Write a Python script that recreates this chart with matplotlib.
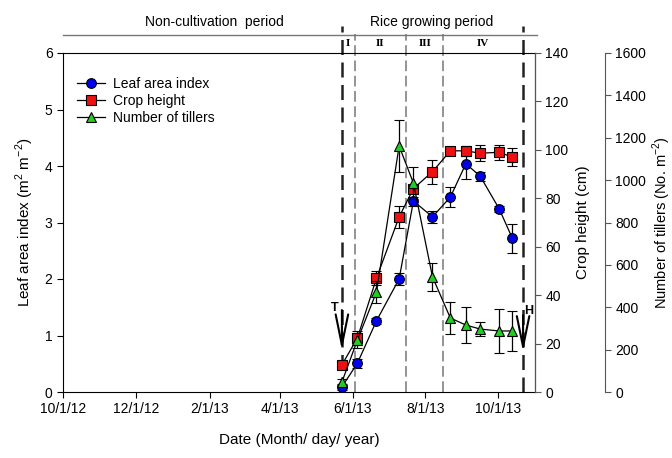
import matplotlib
matplotlib.use("Agg")
import matplotlib.pyplot as plt
import matplotlib.dates as mdates
import matplotlib.transforms as mtrans
from matplotlib.lines import Line2D
import pandas as pd

plt.rcParams['font.family'] = ['Liberation Sans', 'DejaVu Sans']
plt.rcParams['mathtext.fontset'] = 'custom'
plt.rcParams['mathtext.rm'] = 'Liberation Sans'

# sampling dates
fechas = pd.to_datetime(["2013-05-23", "2013-06-05", "2013-06-21", "2013-07-10",
                         "2013-07-22", "2013-08-07", "2013-08-22", "2013-09-04",
                         "2013-09-16", "2013-10-02", "2013-10-13"])

lai = [0.09, 0.51, 1.26, 2.0, 3.38, 3.10, 3.45, 4.04, 3.82, 3.24, 2.72]
lai_err = [0.05, 0.08, 0.05, 0.1, 0.08, 0.1, 0.18, 0.27, 0.08, 0.05, 0.26]

altura = [11.2, 22.3, 47, 72.3, 84, 91, 99.6, 99.6, 98.6, 99, 97]
altura_err = [1.5, 3, 3, 4.6, 1.5, 5, 1.5, 2, 3.4, 3, 3.8]

hijuelos = [47, 245, 472, 1161, 986, 543, 349, 316, 297, 288, 288]
hijuelos_err = [15, 35, 51, 123, 75, 65, 76, 87, 33, 106, 95]

# period limits
lineas_gruesas = pd.to_datetime(["2013-05-23", "2013-10-22"])
lineas_finas = pd.to_datetime(["2013-06-03", "2013-07-16", "2013-08-16"])
etapas = ["I", "II", "III", "IV"]
etapas_x = pd.to_datetime(["2013-05-28", "2013-06-24", "2013-08-01", "2013-09-18"])

fig = plt.figure(figsize=(6.72, 4.58), dpi=100)
ax = fig.add_axes([63/672, 66/458, 472/672, 339/458])
ax2 = ax.twinx()
ax3 = ax.twinx()
ax3.spines['right'].set_position(('axes', (605 - 63) / 472))

ax.set_xlim(pd.Timestamp("2012-10-01"), pd.Timestamp("2013-11-01"))
ax.set_ylim(0, 6)
ax2.set_ylim(0, 140)
ax3.set_ylim(0, 1600)

eb = dict(color='black', lw=0.9, capsize=3.5, elinewidth=0.9, capthick=0.9,
          markeredgecolor='black', markeredgewidth=0.8, markersize=7)
ax.errorbar(fechas, lai, yerr=lai_err, marker='o', markerfacecolor='#0000ee', **eb)
ax2.errorbar(fechas, altura, yerr=altura_err, marker='s', markerfacecolor='#ee1111',
             **dict(eb, markersize=6.5))
ax3.errorbar(fechas, hijuelos, yerr=hijuelos_err, marker='^', markerfacecolor='#22cc22', **eb)

# x axis
def fecha_fmt(v, p):
    d = mdates.num2date(v)
    return "{}/{}/{}".format(d.month, d.day, d.strftime('%y'))

ax.xaxis.set_major_locator(mdates.MonthLocator(bymonth=[2, 4, 6, 8, 10, 12]))
ax.xaxis.set_major_formatter(plt.FuncFormatter(fecha_fmt))

for a in (ax, ax2, ax3):
    a.tick_params(direction='out', length=4, labelsize=10, width=0.8)
ax.set_yticks(range(0, 7))
ax2.set_yticks(range(0, 141, 20))
ax3.set_yticks(range(0, 1601, 200))
ax2.spines['right'].set_color('#555555')
ax3.spines['right'].set_color('#555555')
ax2.tick_params(colors='#555555', labelcolor='black')
ax3.tick_params(colors='#555555', labelcolor='black')
for a in (ax2, ax3):
    a.spines['top'].set_visible(False)
    a.spines['left'].set_visible(False)
    a.spines['bottom'].set_visible(False)

ax.set_xlabel("Date (Month/ day/ year)", fontsize=11, labelpad=12)
ax.set_ylabel(r"Leaf area index (m$^{2}$ m$^{-2}$)", fontsize=11, labelpad=6)
ax2.set_ylabel("Crop height (cm)", fontsize=11, labelpad=5)
ax3.set_ylabel(r"Number of tillers (No. m$^{-2}$)", fontsize=10.5, labelpad=3)

# period lines
for d in lineas_gruesas:
    ax.axvline(d, ymin=0, ymax=1.08, color='#222222', lw=1.8, ls=(0, (6, 3)), clip_on=False)
for d in lineas_finas:
    ax.axvline(d, ymin=0, ymax=1.055, color='#777777', lw=1.1, ls=(0, (7, 3)), clip_on=False)

ax.plot([0, 1.005], [1.053, 1.053], transform=ax.transAxes, color='#777777', lw=1, clip_on=False)

trans = mtrans.blended_transform_factory(ax.transData, ax.transAxes)
ax.text(0.32, 1.09, "Non-cultivation  period", transform=ax.transAxes, ha='center',
        va='center', fontsize=10)
ax.text(pd.Timestamp("2013-08-06"), 1.09, "Rice growing period", transform=trans,
        ha='center', va='center', fontsize=10)
for nombre, x in zip(etapas, etapas_x):
    ax.text(x, 1.027, nombre, transform=trans, ha='center', va='center', fontsize=8,
            family=['Liberation Serif', 'DejaVu Serif'], fontweight='bold')

# transplanting and harvest arrows
flecha = dict(arrowstyle='->,head_length=2.2,head_width=0.45', color='black', lw=1.5,
              shrinkA=0, shrinkB=0)
ax.annotate("", xy=(pd.Timestamp("2013-05-23"), 0.74), xytext=(pd.Timestamp("2013-05-23"), 1.45),
            arrowprops=flecha)
ax.annotate("", xy=(pd.Timestamp("2013-10-22"), 0.71), xytext=(pd.Timestamp("2013-10-22"), 1.36),
            arrowprops=flecha)
ax.text(pd.Timestamp("2013-05-17"), 1.48, "T", fontsize=9, fontweight='bold', ha='center', va='center')
ax.text(pd.Timestamp("2013-10-27"), 1.43, "H", fontsize=9, fontweight='bold', ha='center', va='center')

mk = dict(color='black', lw=0.9, markeredgecolor='black', markeredgewidth=0.8, markersize=7)
handles = [Line2D([], [], marker='o', markerfacecolor='#0000ee', **mk),
           Line2D([], [], marker='s', markerfacecolor='#ee1111', **dict(mk, markersize=6.5)),
           Line2D([], [], marker='^', markerfacecolor='#22cc22', **mk)]
ax.legend(handles, ['Leaf area index', 'Crop height', 'Number of tillers'],
          loc='upper left', bbox_to_anchor=(0.0, 0.97), frameon=False,
          fontsize=10, handlelength=2.0, handletextpad=0.6, labelspacing=0.2,
          borderaxespad=0.6)

plt.savefig("out.png", dpi=100)
